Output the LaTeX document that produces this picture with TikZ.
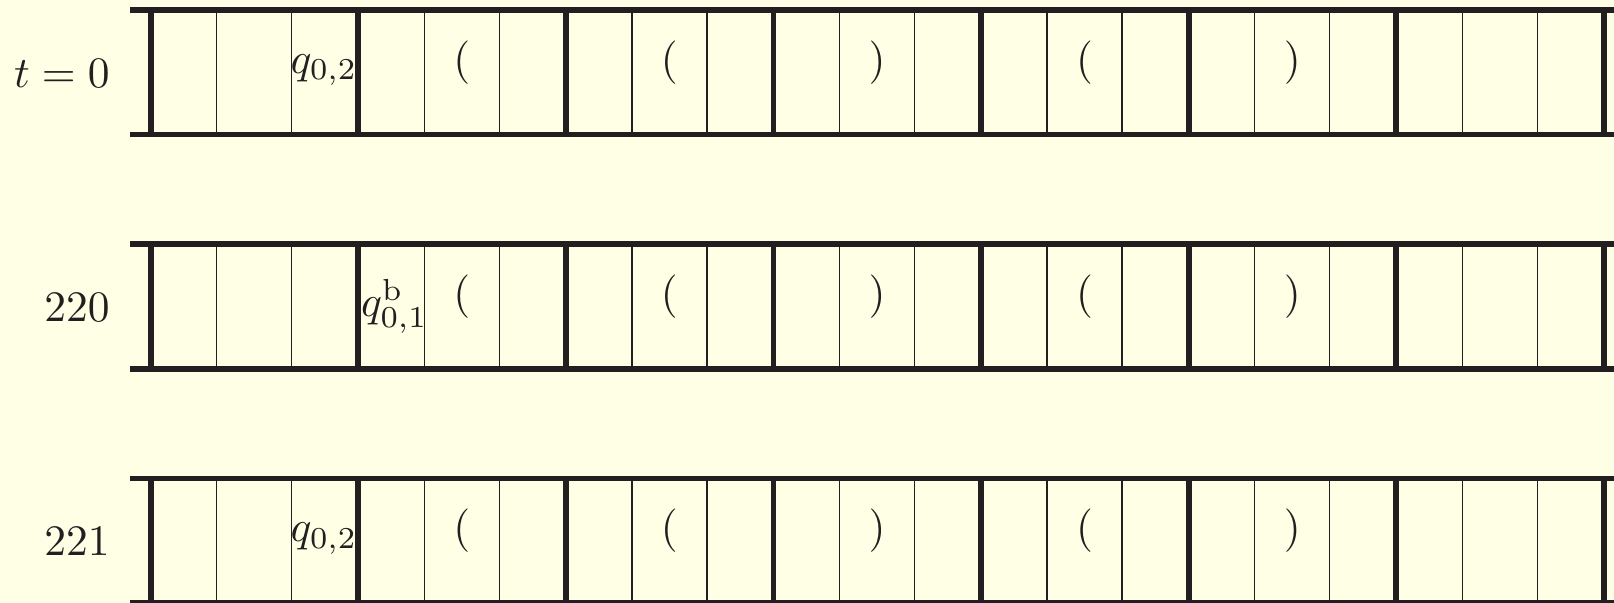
\documentclass[tikz,border=0pt]{standalone}
\usepackage{amsmath}
\definecolor{paper}{HTML}{FFFFE6}
\definecolor{ink}{HTML}{231F20}
\tikzset{
  tapeline/.style={line width=1.3pt,draw=ink},
  cellline/.style={line width=0.3pt,draw=ink},
  symbol/.style={anchor=base,inner sep=0pt,text=ink},
  rowlabel/.style={anchor=base east,inner sep=0pt,text=ink},
}
\begin{document}
\begin{tikzpicture}[x=0.23pt,y=-0.23pt]
\fill[paper] (0,0) rectangle (1614,603);
\useasboundingbox (0,0) rectangle (1614,603);
% three snapshots of the tape
\foreach \r in {0,1,2}{
  \pgfmathsetmacro{\ya}{10+234.3*\r}
  \pgfmathsetmacro{\yb}{\ya+124.5}
  \draw[tapeline] (130,\ya) -- (1614,\ya) (130,\yb) -- (1614,\yb);
  \foreach \g in {0,...,6}{
    \pgfmathsetmacro{\xg}{150.7+207.6*\g}
    \draw[tapeline] (\xg,\ya) -- (\xg,\yb);
    \draw[cellline] (\xg+66,\ya) -- (\xg+66,\yb) (\xg+141,\ya) -- (\xg+141,\yb);
  }
  \draw[tapeline] (1603.9,\ya) -- (1603.9,\yb);
  \foreach \g/\s in {1/{(},2/{(},3/{)},4/{(},5/{)}}
    \node[symbol] (sym\r\g) at (254.2+207.6*\g,\ya+63) {$\s$};
}
% time labels
\node[rowlabel] (lab0) at (110.5,87.3) {$t=0$};
\node[rowlabel] (lab1) at (110.5,321.6) {$220$};
\node[rowlabel] (lab2) at (110.5,555.9) {$221$};
% head positions
\node[symbol] (head0) at (324,73) {$q_{0,2}$};
\node[symbol] (head1) at (394.5,316.3) {$q^{\mathrm b}_{0,1}$};
\node[symbol] (head2) at (324,541.6) {$q_{0,2}$};
\end{tikzpicture}
\end{document}
